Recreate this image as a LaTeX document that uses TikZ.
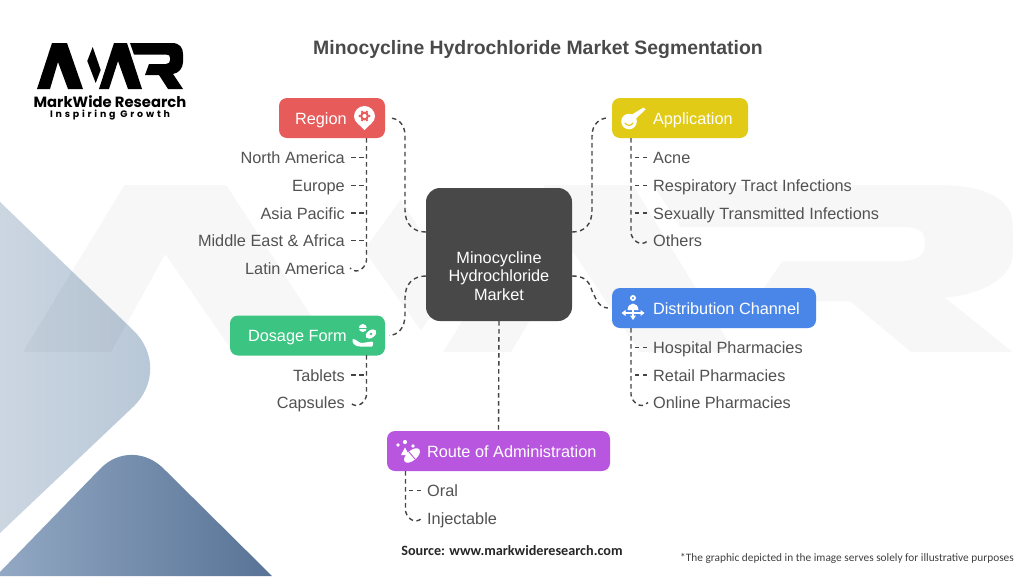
\documentclass[tikz,border=0pt]{standalone}
\usepackage{fontspec}
\usetikzlibrary{calc}
\setmainfont{Liberation Sans}
\newfontfamily\logofont{Poppins}
\newfontfamily\notefont{Carlito}
\definecolor{txt}{HTML}{525252}
\definecolor{dash}{HTML}{444444}
\definecolor{cred}{HTML}{E85B5B}
\definecolor{cyel}{HTML}{E1CB17}
\definecolor{cblu}{HTML}{4A86E8}
\definecolor{cgrn}{HTML}{3CC482}
\definecolor{cpur}{HTML}{B856E0}
\definecolor{cdark}{HTML}{484848}
\definecolor{dia1a}{HTML}{CBD6E1}
\definecolor{dia1b}{HTML}{B8C7D7}
\definecolor{dia2a}{HTML}{92A8C3}
\definecolor{dia2b}{HTML}{587396}
\newcommand{\logoshape}{
  (37,89) -- (52,43) -- (67,43) -- (83,89) -- (68,89) -- (58,62) -- (50,89) -- cycle
  (92.7,47) -- (100.7,70) -- (95.7,83) -- (87.3,61) -- cycle
  (99,89) -- (114,43) -- (127,43) -- (142,89) -- (128,89) -- (118,61) -- (109,89) -- cycle
  (130,43) -- (172,43) .. controls (180,43) and (183,48) .. (183,54) -- (183,62) .. controls (183,68) and (179,73) .. (173,74) -- (183,89) -- (168,89) -- (159,75) -- (145,75) -- (149,64) -- (166,64) .. controls (169,64) and (170,62) .. (170,60) -- (170,58) .. controls (170,55.5) and (169,54.5) .. (166,54.5) -- (134,54.5) -- cycle
}
\tikzset{
  box/.style={rounded corners=8pt,minimum height=40pt,inner sep=0pt,text=white,font=\fontsize{16.3}{18}\selectfont,text height=15pt,text depth=3pt},
  item/.style={inner sep=0pt,text=txt,font=\fontsize{16.3}{18}\selectfont,text height=15pt,text depth=3pt},
  link/.style={draw=dash,line width=1.4pt,dash pattern=on 4.5pt off 3.5pt},
  icon/.style={fill=white,draw=none},
}
\begin{document}
\begin{tikzpicture}[x=1pt,y=-1pt]
\useasboundingbox (0,0) rectangle (1024,576);
\fill[white] (0,0) rectangle (1024,576);
% background diamonds
\shade[left color=dia1a,right color=dia1b]
  (0,202) -- (133,330) .. controls (156,352) and (156,385) .. (133,407) -- (0,533) -- cycle;
\shade[left color=dia2a,right color=dia2b]
  (0,572) -- (100,469) .. controls (118,450) and (146,450) .. (165,470) -- (272,576) -- (0,576) -- cycle;
% watermark
\begin{scope}[shift={(-228,29)},xscale=6.78,yscale=3.63]
  \fill[black,opacity=0.03,even odd rule] \logoshape;
\end{scope}
% logo
\fill[black] \logoshape;
\node[inner sep=0pt,font=\logofont\bfseries\fontsize{14.8}{16}\selectfont,text=black] (logotext) at (110,101.5) {MarkWide Research};
\node[inner sep=0pt,font=\logofont\bfseries\fontsize{9.4}{10}\selectfont,text=black] (logosub) at (110,115) {\addfontfeature{LetterSpace=30}Inspiring Growth};
% title
\node[inner sep=0pt,font=\bfseries\fontsize{19.4}{22}\selectfont,text=txt!90!black] (title) at (538,50) {Minocycline Hydrochloride Market Segmentation};
% centre
\node[fill=cdark,rounded corners=14pt,minimum width=146pt,minimum height=133pt,inner sep=0pt] (centre) at (499,254.5) {};
\node[inner sep=0pt,text=white,align=center,font=\fontsize{16.3}{18.4}\selectfont] (centretext) at (499,276) {Minocycline\\Hydrochloride\\Market};
% category boxes
\node[box,fill=cred,minimum width=106pt] (region) at (332,118) {\makebox[106pt][l]{\hspace{16pt}Region}};
\node[box,fill=cyel,minimum width=136pt] (application) at (680,118) {\makebox[136pt][l]{\hspace{41pt}Application}};
\node[box,fill=cblu,minimum width=204pt] (distribution) at (714,308) {\makebox[204pt][l]{\hspace{41pt}Distribution Channel}};
\node[box,fill=cgrn,minimum width=155pt] (dosage) at (307.5,335.5) {\makebox[155pt][l]{\hspace{18pt}Dosage Form}};
\node[box,fill=cpur,minimum width=223pt] (route) at (498.5,451) {\makebox[223pt][l]{\hspace{40pt}Route of Administration}};
% Left list: region
\foreach \n/\t/\y in {na/North America/157.5,eu/Europe/185.5,ap/Asia Pacific/213,me/Middle East \& Africa/240.5,la/Latin America/268}
  \node[item,anchor=east] (\n) at (345,\y) {\t};
% Application list
\foreach \n/\t/\y in {acne/Acne/157.5,resp/Respiratory Tract Infections/185.5,sex/Sexually Transmitted Infections/213,oth/Others/240.5}
  \node[item,anchor=west] (\n) at (653,\y) {\t};
% Distribution list
\foreach \n/\t/\y in {hos/Hospital Pharmacies/347.5,ret/Retail Pharmacies/375,onl/Online Pharmacies/402.5}
  \node[item,anchor=west] (\n) at (653,\y) {\t};
% Dosage list
\foreach \n/\t/\y in {tab/Tablets/375,cap/Capsules/402.5}
  \node[item,anchor=east] (\n) at (345,\y) {\t};
% Route list
\foreach \n/\t/\y in {oral/Oral/490.5,inj/Injectable/518}
  \node[item,anchor=west] (\n) at (427,\y) {\t};
% spines
\coordinate (sr) at (366.5,138);
\coordinate (sa) at (631,138);
\coordinate (sd) at (631,328);
\coordinate (sg) at (366.5,355);
\coordinate (so) at (405.5,471);
\draw[link] (sr) -- ($(sr |- la.east)+(0,-8)$) .. controls +(0,6) and +(8,8) .. ([xshift=5pt]la.east);
\foreach \n in {na,eu,ap,me} \draw[link] ([xshift=6pt]\n.east) -- (sr |- \n.east);
\draw[link] (sa) -- ($(sa |- oth.west)+(0,-8)$) .. controls +(0,6) and +(-8,8) .. ([xshift=-5pt]oth.west);
\foreach \n in {acne,resp,sex} \draw[link] ([xshift=-6pt]\n.west) -- (sa |- \n.west);
\draw[link] (sd) -- ($(sd |- onl.west)+(0,-8)$) .. controls +(0,6) and +(-8,8) .. ([xshift=-5pt]onl.west);
\foreach \n in {hos,ret} \draw[link] ([xshift=-6pt]\n.west) -- (sd |- \n.west);
\draw[link] (sg) -- ($(sg |- cap.east)+(0,-8)$) .. controls +(0,6) and +(8,8) .. ([xshift=5pt]cap.east);
\draw[link] ([xshift=6pt]tab.east) -- (sg |- tab.east);
\draw[link] (so) -- ($(so |- inj.west)+(0,-8)$) .. controls +(0,6) and +(-8,8) .. ([xshift=-5pt]inj.west);
\draw[link] ([xshift=-6pt]oral.west) -- (so |- oral.west);
% centre connectors
\draw[link] (centre.west |- 0,232) .. controls (413,232) and (405,224) .. (405,210) -- (405,136) .. controls (405,124) and (398,118) .. ([xshift=4pt]region.east);
\draw[link] (centre.east |- 0,232) .. controls (585,232) and (592,224) .. (592,210) -- (592,136) .. controls (592,124) and (600,118) .. ([xshift=-4pt]application.west);
\draw[link] (centre.east |- 0,276) .. controls (592,276) and (590,290) .. (594,295) .. controls (598,304) and (602,308) .. ([xshift=-4pt]distribution.west);
\draw[link] (centre.west |- 0,276) .. controls (413,276) and (405,284) .. (405,298) -- (405,315) .. controls (405,328) and (398,335) .. ([xshift=4pt]dosage.east);
\draw[link] (centre.south) -- (route.north);
% icons
% region pin
\fill[icon] (364.5,130) .. controls (360,125) and (354,122) .. (354,116.5) arc[start angle=180,end angle=360,radius=10.5] .. controls (375,122) and (369,125) .. (364.5,130) -- cycle;
\fill[cred] (364.5,116) circle[radius=4.4];
\foreach \a in {0,60,...,300} \fill[cred] (364.5,116) ++(\a:4.8) circle[radius=1.3];
\fill[white] (364.5,116) circle[radius=2.1];
% application
\fill[icon] (629,121.5) circle[radius=7.8];
\fill[icon] (632,114.5) -- (643.5,107.5) -- (645.5,109.5) -- (636,118.5) -- cycle;
\draw[cyel,line width=1.2pt,line cap=round] (625,123) .. controls (626.5,126) and (631.5,126) .. (633,123);
% distribution
\fill[icon] (633,298) circle[radius=3];
\fill[cblu] (633,298) circle[radius=1.2];
\fill[icon] (627.5,310) .. controls (628,301.5) and (638,301.5) .. (638.5,310) -- cycle;
\draw[white,line width=1.4pt] (625,313) -- (641,313) (633,310) -- (633,316);
\fill[icon] (621.5,313) -- (625.5,310) -- (625.5,316) -- cycle (644.5,313) -- (640.5,310) -- (640.5,316) -- cycle (633,320) -- (630,315.5) -- (636,315.5) -- cycle;
% dosage
\fill[icon] (362.8,328) circle[radius=4];
\draw[cgrn,line width=1pt] (358.8,328) -- (366.8,328);
\fill[icon,rotate around={35:(371,334)}] (371,334) ellipse[x radius=6,y radius=3.8];
\fill[cgrn] (371,334) circle[radius=1.4];
\fill[icon] (352.5,339) .. controls (357,339) and (358,343) .. (362,343) -- (372,341.5) .. controls (374,342) and (373,346) .. (372,346.5) -- (360,346.5) .. controls (355,346.5) and (351.5,343) .. (352.5,339) -- cycle;
% route
\foreach \p/\r in {{398,445}/1.9,{405,442}/2.1,{413,446}/1.9}
  \fill[icon] (\p) circle[radius=\r];
\fill[icon] (405,447.5) -- (409,455) -- (401,455) -- cycle;
\fill[icon,rotate around={40:(412,455.5)}] (412,455.5) ellipse[x radius=9.5,y radius=5];
\draw[cpur,line width=0.9pt,rotate around={40:(412,455.5)}] (412,450.5) -- (412,460.5);
% source notes
\node[inner sep=0pt,font=\notefont\bfseries\fontsize{14.2}{16}\selectfont,text=black!85] (source) at (512,551) {Source: www.markwideresearch.com};
\node[inner sep=0pt,font=\notefont\fontsize{11.35}{14}\selectfont,text=black!75] (note) at (847,558) {*The graphic depicted in the image serves solely for illustrative purposes};
\end{tikzpicture}
\end{document}
